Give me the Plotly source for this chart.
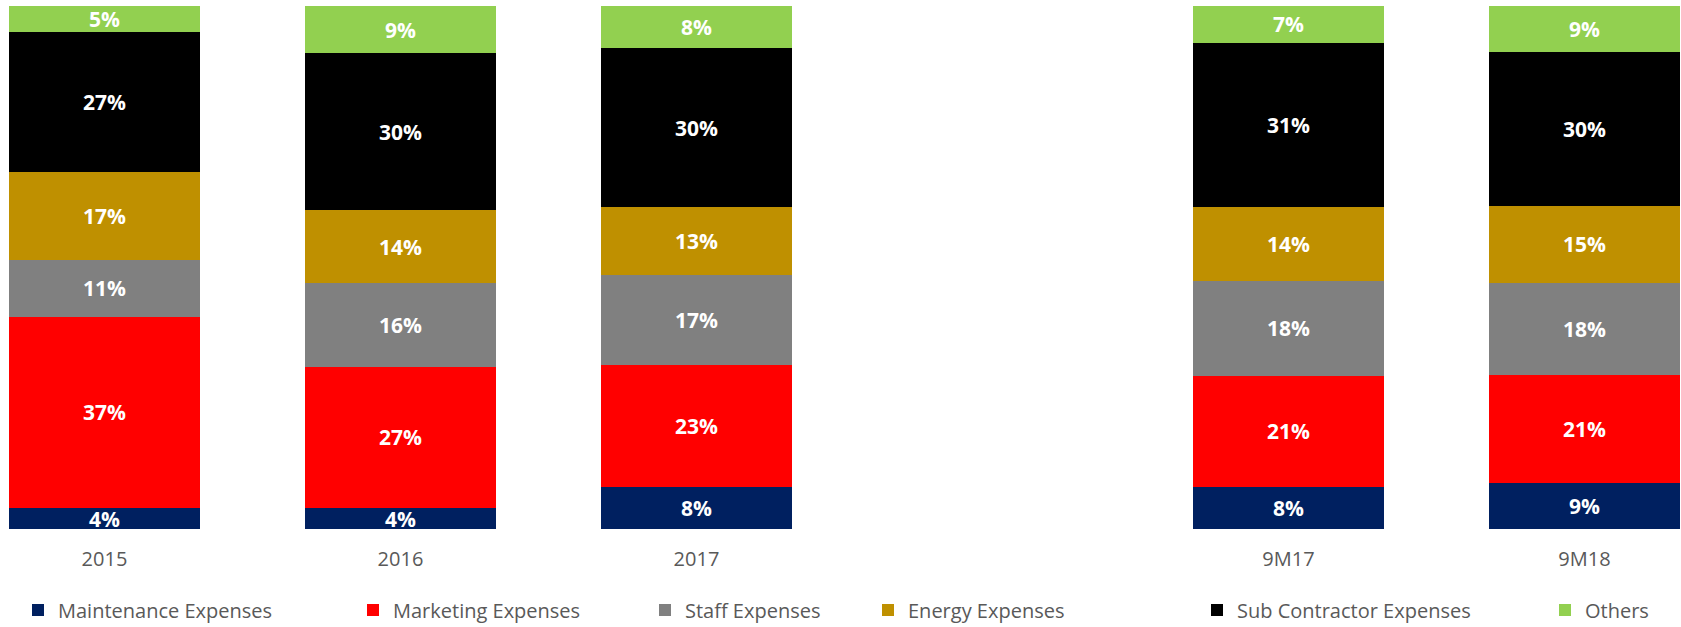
import plotly.graph_objects as go

# Reporting periods (a blank slot separates full years from nine-month figures)
periods = ["2015", "2016", "2017", "9M17", "9M18"]
axis_order = ["2015", "2016", "2017", " ", "9M17", "9M18"]

# Cost breakdown, % of total operating expenses
maintenance = [4, 4, 8, 8, 9]
marketing = [37, 27, 23, 21, 21]
staff = [11, 16, 17, 18, 18]
energy = [17, 14, 13, 14, 15]
sub_contractor = [27, 30, 30, 31, 30]
others = [5, 9, 8, 7, 9]

series = [
    ("Maintenance Expenses", maintenance, "#002060"),
    ("Marketing Expenses", marketing, "#FF0000"),
    ("Staff Expenses", staff, "#808080"),
    ("Energy Expenses", energy, "#BF9000"),
    ("Sub Contractor Expenses", sub_contractor, "#000000"),
    ("Others", others, "#92D050"),
]

W, H = 1681, 627
plot_top, plot_bottom = 6, 529
legend_text_x = [58, 393, 685, 908, 1237, 1585]
legend_names = ["legend"] + [f"legend{i}" for i in range(2, 7)]

fig = go.Figure()
for (name, vals, color), lg in zip(series, legend_names):
    fig.add_trace(go.Bar(
        name=name,
        x=periods,
        y=vals,
        marker=dict(color=color, line=dict(width=0)),
        text=vals,
        texttemplate="%{text}%",
        textposition="inside",
        insidetextanchor="middle",
        constraintext="none",
        textfont=dict(family="Open Sans", size=21, color="white", weight="bold"),
        legend=lg,
        hoverinfo="skip",
    ))

layout_legends = {}
for lg, tx in zip(legend_names, legend_text_x):
    layout_legends[lg] = dict(
        x=(tx - 40) / W,
        xanchor="left",
        y=(plot_bottom - 610) / (plot_bottom - plot_top),
        yanchor="middle",
        orientation="h",
        bgcolor="rgba(0,0,0,0)",
        font=dict(family="Open Sans", size=20, color="#595959"),
    )

fig.update_layout(
    width=W,
    height=H,
    barmode="stack",
    barnorm="percent",
    bargap=0.355,
    margin=dict(l=0, r=0, t=plot_top, b=H - plot_bottom, autoexpand=False),
    plot_bgcolor="white",
    paper_bgcolor="white",
    showlegend=True,
    uniformtext=dict(minsize=21, mode="show"),
    xaxis=dict(
        type="category",
        categoryorder="array",
        categoryarray=axis_order,
        range=[-0.353, 5.326],
        showgrid=False,
        zeroline=False,
        showline=False,
        ticks="outside",
        ticklen=12,
        tickcolor="rgba(0,0,0,0)",
        tickfont=dict(family="Open Sans", size=20, color="#595959"),
    ),
    yaxis=dict(
        range=[0, 100],
        visible=False,
        showgrid=False,
        zeroline=False,
    ),
    **layout_legends,
)

fig.write_html("out.html")
